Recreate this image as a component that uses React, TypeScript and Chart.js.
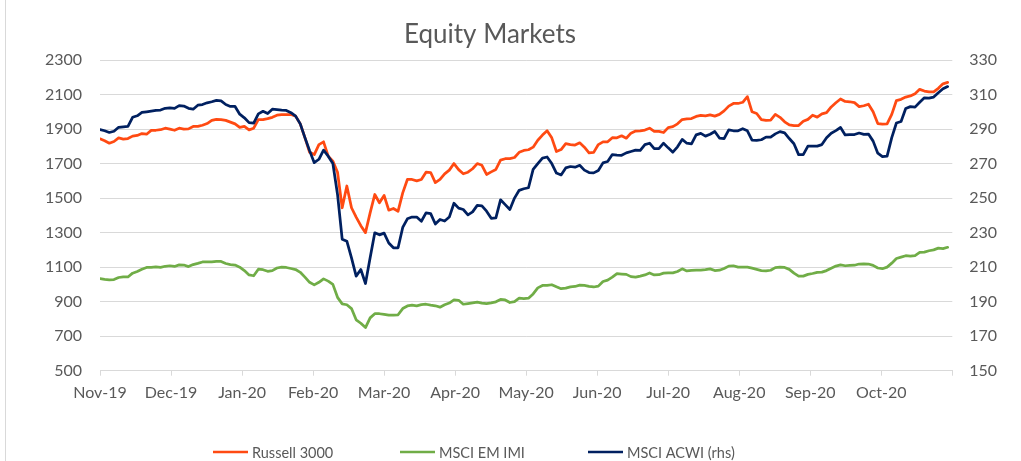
import React, { useEffect, useRef } from "react";
import { Chart, registerables } from "chart.js";

Chart.register(...registerables);

const chartTitle = "Equity Markets";
const seriesNames = ["Russell 3000", "MSCI EM IMI", "MSCI ACWI (rhs)"];
const xTickLabels = ["Nov-19", "Dec-19", "Jan-20", "Feb-20", "Mar-20", "Apr-20", "May-20", "Jun-20", "Jul-20", "Aug-20", "Sep-20", "Oct-20"];

const dates = [
  "2019-11-01","2019-11-03","2019-11-05","2019-11-07","2019-11-09","2019-11-11","2019-11-13","2019-11-15","2019-11-17","2019-11-19","2019-11-21","2019-11-23","2019-11-25","2019-11-27","2019-11-29",
  "2019-12-01","2019-12-03","2019-12-05","2019-12-07","2019-12-09","2019-12-11","2019-12-13","2019-12-15","2019-12-17","2019-12-19","2019-12-21","2019-12-23","2019-12-25","2019-12-27","2019-12-29","2019-12-31",
  "2020-01-02","2020-01-04","2020-01-06","2020-01-08","2020-01-10","2020-01-12","2020-01-14","2020-01-16","2020-01-18","2020-01-20","2020-01-22","2020-01-24","2020-01-26","2020-01-28","2020-01-30",
  "2020-02-01","2020-02-03","2020-02-05","2020-02-07","2020-02-09","2020-02-11","2020-02-13","2020-02-15","2020-02-17","2020-02-19","2020-02-21","2020-02-23","2020-02-25","2020-02-27","2020-02-29",
  "2020-03-02","2020-03-04","2020-03-06","2020-03-08","2020-03-10","2020-03-12","2020-03-14","2020-03-16","2020-03-18","2020-03-20","2020-03-22","2020-03-24","2020-03-26","2020-03-28","2020-03-30",
  "2020-04-01","2020-04-03","2020-04-05","2020-04-07","2020-04-09","2020-04-11","2020-04-13","2020-04-15","2020-04-17","2020-04-19","2020-04-21","2020-04-23","2020-04-25","2020-04-27","2020-04-29",
  "2020-05-01","2020-05-03","2020-05-05","2020-05-07","2020-05-09","2020-05-11","2020-05-13","2020-05-15","2020-05-17","2020-05-19","2020-05-21","2020-05-23","2020-05-25","2020-05-27","2020-05-29","2020-05-31",
  "2020-06-02","2020-06-04","2020-06-06","2020-06-08","2020-06-10","2020-06-12","2020-06-14","2020-06-16","2020-06-18","2020-06-20","2020-06-22","2020-06-24","2020-06-26","2020-06-28","2020-06-30",
  "2020-07-02","2020-07-04","2020-07-06","2020-07-08","2020-07-10","2020-07-12","2020-07-14","2020-07-16","2020-07-18","2020-07-20","2020-07-22","2020-07-24","2020-07-26","2020-07-28","2020-07-30",
  "2020-08-01","2020-08-03","2020-08-05","2020-08-07","2020-08-09","2020-08-11","2020-08-13","2020-08-15","2020-08-17","2020-08-19","2020-08-21","2020-08-23","2020-08-25","2020-08-27","2020-08-29","2020-08-31",
  "2020-09-02","2020-09-04","2020-09-06","2020-09-08","2020-09-10","2020-09-12","2020-09-14","2020-09-16","2020-09-18","2020-09-20","2020-09-22","2020-09-24","2020-09-26","2020-09-28","2020-09-30",
  "2020-10-02","2020-10-04","2020-10-06","2020-10-08","2020-10-10","2020-10-12","2020-10-14","2020-10-16","2020-10-18","2020-10-20","2020-10-22","2020-10-24","2020-10-26","2020-10-28","2020-10-30",
];

const russell3000 = [
  1843,1832,1818,1828,1849,1842,1845,1859,1863,1874,
  1870,1892,1893,1896,1905,1899,1893,1905,1900,1901,
  1915,1915,1922,1932,1950,1956,1955,1950,1940,1930,
  1910,1915,1895,1905,1955,1955,1960,
  1968,1980,1983,1984,1984,1975,1930,1850,1765,1752,
  1810,1826,1743,1714,1650,1444,1570,1444,1390,1340,
  1300,1414,1521,1473,1515,1430,1440,1424,1530,1608,
  1608,1600,1608,1650,1648,1590,
  1608,1640,1662,1700,1665,1641,1650,1670,1700,1690,
  1637,1652,1666,1720,1728,1729,1735,1765,1776,1780,
  1795,1835,1865,1890,1849,1770,1781,1815,1810,1807,
  1820,1795,1762,1765,1810,1826,1826,
  1850,1849,1861,1847,1876,1888,1890,1894,1905,1886,
  1886,1880,1908,1914,1930,1955,1959,1961,1973,1979,
  1976,1982,1975,1985,2005,2033,2048,2048,2055,2088,
  2000,1990,1955,1950,1952,1985,
  1968,1942,1924,1920,1920,1945,1956,1980,1969,1988,
  1995,2028,2052,2074,2060,2058,2053,2030,2035,2044,
  2000,1932,1928,1930,1985,2065,2072,2085,2092,2105,
  2130,2120,2115,2115,2136,2162,2170,
];

const msciEmImi = [
  1033,1029,1026,1028,1040,1044,1043,1065,1075,1088,
  1098,1098,1101,1099,1105,1108,1104,1113,1112,1103,
  1115,1122,1130,1130,1131,1133,1133,1121,1115,1112,
  1100,1080,1055,1050,1088,1085,1076,
  1080,1095,1100,1098,1092,1086,1070,1042,1012,997,
  1012,1032,1019,1000,925,887,882,860,795,775,
  750,806,830,830,826,822,822,824,860,875,
  880,876,883,885,880,876,
  868,882,892,910,908,885,889,893,897,892,
  889,893,899,913,910,895,900,920,918,920,
  945,980,994,994,998,986,975,978,986,988,
  996,994,988,985,990,1017,1025,
  1042,1062,1060,1058,1045,1042,1048,1055,1066,1055,
  1056,1065,1067,1067,1075,1090,1078,1081,1083,1083,
  1085,1090,1080,1082,1092,1106,1108,1100,1100,1100,
  1094,1087,1080,1078,1082,1097,
  1100,1098,1087,1065,1048,1048,1058,1063,1070,1071,
  1080,1094,1106,1113,1108,1110,1111,1118,1119,1118,
  1110,1095,1091,1100,1123,1150,1158,1166,1164,1167,
  1185,1187,1195,1200,1210,1207,1215,
];

const msciAcwiRhs = [
  289.7,289.0,288.0,288.7,291.0,291.3,291.5,296.8,297.7,299.6,
  300.0,300.4,300.8,301.0,302.0,302.2,302.0,303.6,303.3,302.0,
  301.5,303.8,304.2,305.2,305.8,306.6,306.3,304.2,303.1,303.1,
  298.6,296.5,293.7,293.4,298.8,300.3,299.0,
  301.5,301.2,300.9,300.8,299.5,297.5,293.0,285.0,277.5,270.5,
  272.5,277.8,274.3,270.0,252.1,226.2,225.0,215.4,204.8,208.6,
  200.5,215.4,229.9,228.7,229.7,224.0,221.2,221.2,233.0,238.0,
  239.0,239.0,236.6,241.4,241.0,235.0,
  237.6,236.7,239.0,247.0,244.2,243.4,240.3,242.0,245.8,245.5,
  242.4,238.3,238.5,249.0,246.2,243.4,250.0,254.5,255.4,256.0,
  266.6,270.0,273.2,273.8,270.0,264.5,263.4,267.5,268.3,267.9,
  269.0,266.2,264.8,264.6,266.0,270.4,271.2,
  275.2,274.9,274.8,276.2,277.0,277.8,277.6,281.0,281.8,278.7,
  278.7,281.8,279.1,276.6,279.7,284.0,281.8,281.4,286.6,287.5,
  285.9,287.0,288.6,284.8,284.5,289.5,289.0,289.0,290.2,289.0,
  283.6,283.4,283.8,285.3,285.3,287.2,
  288.5,287.8,284.5,281.5,275.2,275.2,280.1,280.1,280.1,281.0,
  285.0,287.6,289.1,290.9,286.6,286.8,286.8,287.7,286.9,287.1,
  283.0,276.0,274.0,274.3,285.0,293.5,294.4,301.9,303.0,302.7,
  305.5,308.1,307.9,308.5,311.0,313.3,314.6,
];

const seriesColors = ["#FF4A12", "#70AD47", "#002060"];
const legendLeft = [213, 400, 588];

const DAY_MS = 86400000;
const originMs = Date.UTC(2019, 10, 1);
const toDay = (s: string) => {
  const [y, m, d] = s.split("-").map(Number);
  return (Date.UTC(y, m - 1, d) - originMs) / DAY_MS;
};
const axisEnd = toDay("2020-11-01");
const dayIndex = dates.map(toDay);
const toPoints = (vals: number[]) => vals.map((v, i) => ({ x: dayIndex[i], y: v }));

const FONT = "Lato";
const TEXT = "#595959";
const GRID = "#d9d9d9";

const overlayPlugin = {
  id: "overlay",
  afterDraw(chart: any) {
    const ctx = chart.ctx as CanvasRenderingContext2D;
    ctx.save();
    ctx.fillStyle = TEXT;
    ctx.font = `26px ${FONT}`;
    ctx.textAlign = "center";
    ctx.textBaseline = "alphabetic";
    ctx.fillText(chartTitle, 490, 43);
    ctx.font = `14.5px ${FONT}`;
    ctx.textAlign = "left";
    ctx.textBaseline = "middle";
    seriesNames.forEach((name, i) => {
      const x = legendLeft[i];
      const y = 452;
      ctx.strokeStyle = seriesColors[i];
      ctx.lineWidth = 2.5;
      ctx.beginPath();
      ctx.moveTo(x, y);
      ctx.lineTo(x + 35, y);
      ctx.stroke();
      ctx.fillStyle = TEXT;
      ctx.fillText(name, x + 39, y + 1);
    });
    ctx.restore();
  },
};

export default function App() {
  const canvasRef = useRef<HTMLCanvasElement | null>(null);

  useEffect(() => {
    if (!canvasRef.current) return;
    const chart = new Chart(canvasRef.current, {
      type: "line",
      data: {
        datasets: [
          {
            label: seriesNames[0],
            data: toPoints(russell3000),
            borderColor: seriesColors[0],
            yAxisID: "yLeft",
            order: 1,
          },
          {
            label: seriesNames[1],
            data: toPoints(msciEmImi),
            borderColor: seriesColors[1],
            yAxisID: "yLeft",
            order: 2,
          },
          {
            label: seriesNames[2],
            data: toPoints(msciAcwiRhs),
            borderColor: seriesColors[2],
            yAxisID: "yRight",
            order: 0,
          },
        ],
      },
      options: {
        animation: false,
        responsive: false,
        maintainAspectRatio: false,
        parsing: false,
        normalized: true,
        elements: {
          line: { borderWidth: 2.75, tension: 0, borderJoinStyle: "round", borderCapStyle: "round" },
          point: { radius: 0, hoverRadius: 0 },
        },
        layout: { padding: { top: 60, left: 0, right: 0, bottom: 0 } },
        plugins: {
          legend: { display: false },
          title: { display: false },
          tooltip: { enabled: false },
        },
        scales: {
          x: {
            type: "linear",
            min: 0,
            max: axisEnd,
            afterBuildTicks: (scale: any) => {
              scale.ticks = Array.from({ length: 13 }, (_, i) => ({ value: (i * axisEnd) / 12 }));
            },
            afterFit: (scale: any) => {
              scale.height = 90.3;
            },
            ticks: {
              autoSkip: false,
              maxRotation: 0,
              minRotation: 0,
              padding: 8,
              color: TEXT,
              font: { family: FONT, size: 16 },
              callback: (_v: any, i: number) => xTickLabels[i] ?? "",
            },
            grid: { display: true, drawOnChartArea: false, drawTicks: true, tickLength: 5, color: GRID },
            border: { display: true, color: GRID, width: 1 },
          },
          yLeft: {
            type: "linear",
            position: "left",
            min: 500,
            max: 2300,
            afterFit: (scale: any) => {
              scale.width = 100;
            },
            ticks: {
              stepSize: 200,
              padding: 18,
              color: TEXT,
              font: { family: FONT, size: 16 },
              callback: (v: any) => String(v),
            },
            grid: { color: GRID, lineWidth: 1, drawTicks: false },
            border: { display: false },
          },
          yRight: {
            type: "linear",
            position: "right",
            min: 150,
            max: 330,
            afterFit: (scale: any) => {
              scale.width = 68.7;
            },
            ticks: {
              stepSize: 20,
              padding: 17,
              color: TEXT,
              font: { family: FONT, size: 16 },
              callback: (v: any) => String(v),
            },
            grid: { drawOnChartArea: false, drawTicks: false },
            border: { display: false },
          },
        },
      },
      plugins: [overlayPlugin],
    });
    return () => chart.destroy();
  }, []);

  return (
    <div style={{ position: "absolute", left: 0, top: 0, width: 1021, height: 461, background: "#ffffff", overflow: "hidden" }}>
      <div style={{ position: "absolute", left: 5, top: 0, width: 1, height: 461, background: GRID }} />
      <canvas ref={canvasRef} width={1021} height={461} style={{ position: "absolute", left: 0, top: 0, width: 1021, height: 461 }} />
    </div>
  );
}
